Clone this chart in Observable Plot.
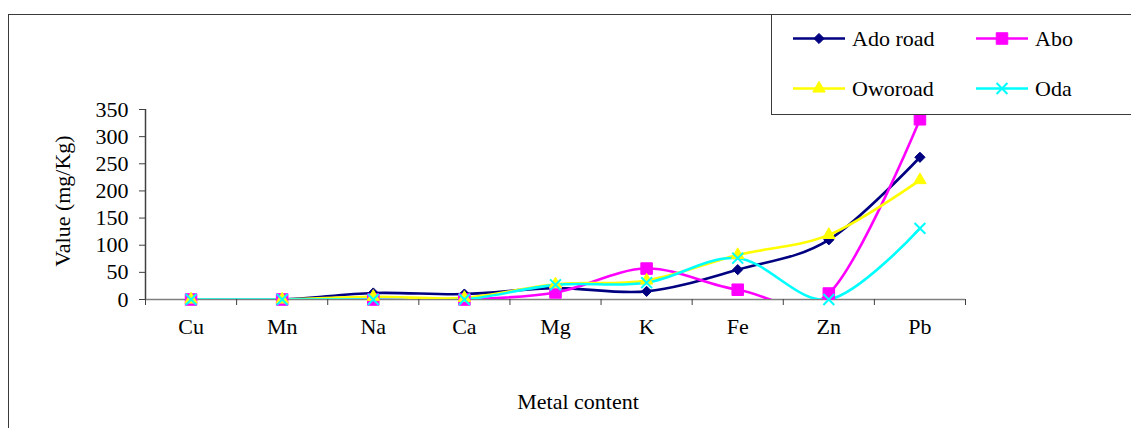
<!DOCTYPE html>
<html><head><meta charset="utf-8">
<script src="https://cdn.jsdelivr.net/npm/d3@7"></script>
<script src="https://cdn.jsdelivr.net/npm/@observablehq/plot@0.6"></script>
<style>
body{margin:0;background:#fff;font-family:'Liberation Serif','Times New Roman',serif;}
#wrap{position:relative;width:1131px;height:428px;overflow:hidden;background:#fff;}
#frame{position:absolute;left:8px;top:14px;width:1200px;height:500px;border-left:1.5px solid #3a3a3a;border-top:1.5px solid #3a3a3a;}
#chart{position:absolute;left:0;top:0;}
#legend{position:absolute;left:771px;top:14px;width:400px;height:99px;border:1.5px solid #3a3a3a;background:#fff;}
.title{position:absolute;font-size:22px;color:#000;white-space:nowrap;line-height:1;}
svg text{font-family:'Liberation Serif','Times New Roman',serif;}
</style></head><body>
<div id="wrap">
  <div id="frame"></div>
  <div id="chart"></div>
  <div id="legend"></div>
  <div class="title" id="xtitle"></div>
  <div class="title" id="ytitle"></div>
</div>
<script>
const metals = ["Cu","Mn","Na","Ca","Mg","K","Fe","Zn","Pb"];
const adoRoad = [0,0,12,10,21,15,55,110,262];
const abo = [0,0,0,0,13,57,18,11,332];
const oworoad = [0,0,5,3,28,35,82,119,220];
const oda = [0,0,0,0,27,31,76,0,131];
const yTicks = [0,50,100,150,200,250,300,350];
const seriesNames = ["Ado road","Abo","Oworoad","Oda"];
const seriesValues = [adoRoad, abo, oworoad, oda];
const seriesColors = ["#000080","#ff00ff","#ffff00","#00ffff"];
const seriesSymbols = ["diamond2","square","triangle","times"];
const seriesR = [4.6, 6.5, 4.6, 5.0];
const xTitle = "Metal content";
const yTitle = "Value (mg/Kg)";

const rows = [];
seriesNames.forEach((s, k) => seriesValues[k].forEach((v, i) => rows.push({site: s, k, i, metal: metals[i], value: v})));

const font = "'Liberation Serif', 'Times New Roman', serif";
const xDomain = [-0.5, metals.length - 0.5];
const marks = [];
// axis lines
marks.push(Plot.ruleY([0], {stroke: "#808080", strokeWidth: 1.5}));
marks.push(Plot.ruleX([xDomain[0]], {y1: 0, y2: 350, stroke: "#404040", strokeWidth: 1.5}));
// axes
marks.push(Plot.axisY(yTicks, {tickSize: 6, tickPadding: 11, fontSize: 22, label: null, stroke: "#404040", fill: "#000"}));
marks.push(Plot.axisX(d3.range(metals.length + 1).map(i => i - 0.5), {tickSize: 6, tickFormat: () => "", label: null, stroke: "#404040"}));
marks.push(Plot.axisX(d3.range(metals.length), {tickSize: 0, tickPadding: 19, tickFormat: i => metals[i], fontSize: 22, label: null, fill: "#000"}));
// lines, series in order
seriesNames.forEach((s, k) => {
  const d = rows.filter(r => r.k === k);
  marks.push(Plot.line(d, {x: "i", y: "value", stroke: seriesColors[k], strokeWidth: 2.6, curve: "cardinal", tension: 0, clip: true}));
});
// markers
seriesNames.forEach((s, k) => {
  const d = rows.filter(r => r.k === k);
  const sym = seriesSymbols[k];
  if (sym === "times") {
    marks.push(Plot.dot(d, {x: "i", y: "value", symbol: sym, r: seriesR[k], stroke: seriesColors[k], strokeWidth: 2, fill: "none"}));
  } else {
    marks.push(Plot.dot(d, {x: "i", y: "value", symbol: sym, r: seriesR[k], fill: seriesColors[k], stroke: seriesColors[k], strokeWidth: 1}));
  }
});

const chart = Plot.plot({
  width: 1131, height: 428,
  marginLeft: 145, marginRight: 166, marginTop: 109, marginBottom: 129,
  style: {fontFamily: font, fontSize: "22px", background: "transparent", color: "#000", overflow: "visible"},
  x: {type: "linear", domain: xDomain, axis: null},
  y: {domain: [0, 350], axis: null},
  marks
});
document.getElementById("chart").appendChild(chart);

// titles
const xt = document.getElementById("xtitle");
xt.textContent = xTitle;
const xw = xt.getBoundingClientRect().width;
xt.style.left = (578 - xw / 2) + "px"; xt.style.top = "391px";
const yt = document.getElementById("ytitle");
yt.textContent = yTitle;
const yw = yt.getBoundingClientRect().width, yh = yt.getBoundingClientRect().height;
yt.style.left = (63 - yw / 2) + "px"; yt.style.top = (201 - yh / 2) + "px";
yt.style.transform = "rotate(-90deg)";

// legend
const lg = d3.select("#legend").append("svg").attr("width", 400).attr("height", 99).style("display", "block");
const symMap = {diamond2: d3.symbolDiamond2, square: d3.symbolSquare, triangle: d3.symbolTriangle, times: d3.symbolTimes};
seriesNames.forEach((s, k) => {
  const col = k % 2, row = Math.floor(k / 2);
  const x0 = col === 0 ? 21 : 204, cy = row === 0 ? 23.5 : 73.5;
  const g = lg.append("g").attr("transform", `translate(${x0},${cy})`);
  g.append("line").attr("x1", 0).attr("x2", 52).attr("stroke", seriesColors[k]).attr("stroke-width", 2.6);
  const sym = seriesSymbols[k];
  const p = g.append("path").attr("transform", "translate(26,0)").attr("d", d3.symbol(symMap[sym], Math.PI * seriesR[k] * seriesR[k])());
  if (sym === "times") p.attr("fill", "none").attr("stroke", seriesColors[k]).attr("stroke-width", 2);
  else p.attr("fill", seriesColors[k]).attr("stroke", seriesColors[k]);
  g.append("text").attr("x", 59).attr("y", 0).attr("dy", "0.35em").attr("font-size", 22).style("font-family", font).attr("fill", "#000").text(s);
});
</script>
</body></html>
